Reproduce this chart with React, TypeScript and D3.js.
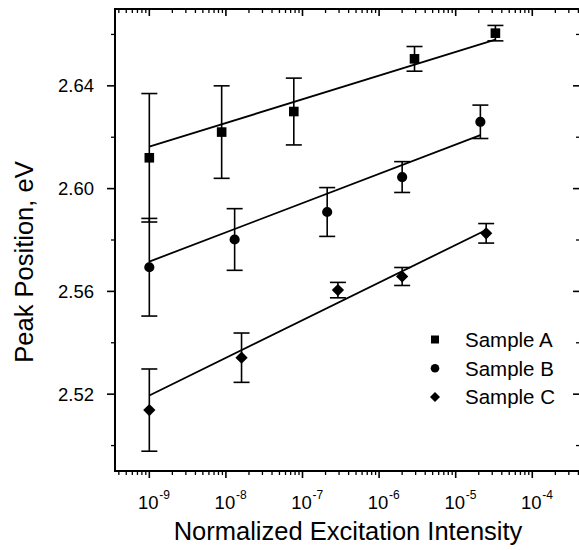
import React from "react";
import * as d3 from "d3";

// Peak position vs normalized excitation intensity
const intensityA = [1e-9, 8.8e-9, 7.7e-8, 2.9e-6, 3.3e-5];
const peakA = [2.612, 2.622, 2.63, 2.6505, 2.6605];
const errA = [0.025, 0.018, 0.013, 0.0048, 0.003];

const intensityB = [1e-9, 1.3e-8, 2.1e-7, 2.0e-6, 2.1e-5];
const peakB = [2.5694, 2.5802, 2.5909, 2.6045, 2.626];
const errB = [0.019, 0.012, 0.0095, 0.006, 0.0065];

const intensityC = [1e-9, 1.6e-8, 2.9e-7, 2.0e-6, 2.5e-5];
const peakC = [2.5138, 2.5342, 2.5605, 2.5658, 2.5826];
const errC = [0.016, 0.0096, 0.003, 0.0035, 0.0038];

// linear fits (endpoints)
const fitA = [2.6163, 2.658];
const fitB = [2.5716, 2.6208];
const fitC = [2.5195, 2.5839];

const yMajor = [2.52, 2.56, 2.6, 2.64];
const yMinor = [2.5, 2.54, 2.58, 2.62, 2.66];
const xLabels = [-9, -8, -7, -6, -5, -4];

const seriesNames = ["Sample A", "Sample B", "Sample C"];

const W = 579;
const H = 550;
const left = 115;
const top = 9;
const right = 580;
const bottom = 471;

const FONT = "'Liberation Sans', Arial, Helvetica, sans-serif";

const x = d3.scaleLog().domain([Math.pow(10, -9.448), Math.pow(10, -3.377)]).range([left, right]);
const y = d3.scaleLinear().domain([2.4901, 2.6699]).range([bottom, top]);

const Marker = ({ shape, cx, cy }: { shape: number; cx: number; cy: number }) => {
  if (shape === 0) return <rect x={cx - 4} y={cy - 4} width={8} height={8} fill="#000" />;
  if (shape === 1) return <circle cx={cx} cy={cy} r={4.3} fill="#000" />;
  return <path d={`M${cx},${cy - 5}L${cx + 5},${cy}L${cx},${cy + 5}L${cx - 5},${cy}Z`} fill="#000" />;
};

const series = [
  { xs: intensityA, ys: peakA, es: errA, fit: fitA },
  { xs: intensityB, ys: peakB, es: errB, fit: fitB },
  { xs: intensityC, ys: peakC, es: errC, fit: fitC },
];

export default function App() {
  const [d0, d1] = x.domain();
  const majors: number[] = [];
  const minors: number[] = [];
  for (let e = -11; e <= -2; e++) {
    const base = Math.pow(10, e);
    if (base >= d0 && base <= d1) majors.push(base);
    for (let m = 2; m <= 9; m++) {
      const v = m * base;
      if (v >= d0 && v <= d1) minors.push(v);
    }
  }
  const line = d3
    .line<[number, number]>()
    .x((d) => x(d[0]))
    .y((d) => y(d[1]));

  return (
    <svg
      width={W}
      height={H}
      style={{ position: "absolute", left: 0, top: 0, background: "#fff" }}
      fontFamily={FONT}
    >
      {/* ticks x */}
      {majors.map((v, i) => (
        <g key={"xm" + i} stroke="#000" strokeWidth={1.6}>
          <line x1={x(v)} x2={x(v)} y1={bottom} y2={bottom + 7} />
          <line x1={x(v)} x2={x(v)} y1={top} y2={top + 7} />
        </g>
      ))}
      {minors.map((v, i) => (
        <g key={"xn" + i} stroke="#000" strokeWidth={1.3}>
          <line x1={x(v)} x2={x(v)} y1={bottom} y2={bottom + 4} />
          <line x1={x(v)} x2={x(v)} y1={top} y2={top + 4} />
        </g>
      ))}
      {xLabels.map((e) => (
        <g key={"xl" + e}>
          <text x={x(Math.pow(10, e)) - 1} y={509} fontSize={18.5} textAnchor="middle">
            10
          </text>
          <text x={x(Math.pow(10, e)) + 10} y={499} fontSize={12}>
            {e}
          </text>
        </g>
      ))}
      {/* ticks y */}
      {yMajor.map((v) => (
        <g key={"ym" + v} stroke="#000" strokeWidth={1.6}>
          <line x1={left - 8} x2={left} y1={y(v)} y2={y(v)} />
          <line x1={right - 7} x2={right} y1={y(v)} y2={y(v)} />
        </g>
      ))}
      {yMinor.map((v) => (
        <g key={"yn" + v} stroke="#000" strokeWidth={1.3}>
          <line x1={left - 4} x2={left} y1={y(v)} y2={y(v)} />
          <line x1={right - 4} x2={right} y1={y(v)} y2={y(v)} />
        </g>
      ))}
      {yMajor.map((v) => (
        <text key={"yl" + v} x={94} y={y(v) + 6.5} fontSize={18.5} textAnchor="end">
          {v.toFixed(2)}
        </text>
      ))}
      {/* frame */}
      <rect x={left} y={top} width={right - left} height={bottom - top} fill="none" stroke="#000" strokeWidth={2} />

      {/* data */}
      {series.map((s, si) => (
        <g key={"s" + si}>
          <path
            d={line([
              [s.xs[0], s.fit[0]],
              [s.xs[s.xs.length - 1], s.fit[1]],
            ]) || ""}
            fill="none"
            stroke="#000"
            strokeWidth={1.8}
          />
          {s.xs.map((xv, i) => {
            const px = x(xv);
            const yt = y(s.ys[i] + s.es[i]);
            const yb = y(s.ys[i] - s.es[i]);
            return (
              <g key={i} stroke="#000" strokeWidth={1.6}>
                <line x1={px} x2={px} y1={yt} y2={yb} />
                <line x1={px - 8} x2={px + 8} y1={yt} y2={yt} />
                <line x1={px - 8} x2={px + 8} y1={yb} y2={yb} />
                <Marker shape={si} cx={px} cy={y(s.ys[i])} />
              </g>
            );
          })}
        </g>
      ))}

      {/* legend */}
      {seriesNames.map((n, i) => (
        <g key={n}>
          <Marker shape={i} cx={435} cy={339.5 + i * 28.7} />
          <text x={465} y={339.5 + i * 28.7 + 7.5} fontSize={20.5}>
            {n}
          </text>
        </g>
      ))}

      {/* axis titles */}
      <text x={348} y={540} fontSize={25.5} textAnchor="middle">
        Normalized Excitation Intensity
      </text>
      <text transform={`translate(33,262) rotate(-90)`} fontSize={25.5} textAnchor="middle">
        Peak Position, eV
      </text>
    </svg>
  );
}
